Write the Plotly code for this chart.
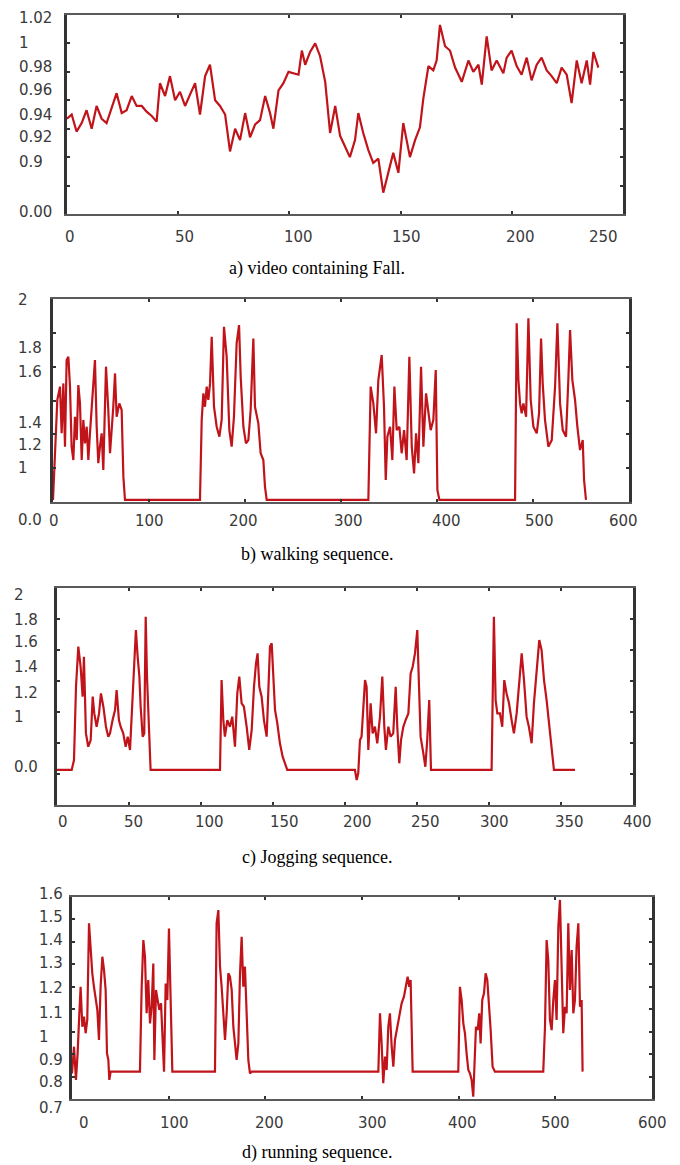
import plotly.graph_objects as go

# ---------------- data ----------------
# a) video containing Fall
fall_x = [0, 2.1, 4.3, 6.6, 8.8, 11.1, 13.3, 15.6, 17.8, 20.1, 22.3, 24.6, 26.8, 29.1, 31.3,
          33.6, 35.8, 38.1, 40.3, 41.8, 44.1, 46.3, 48.6, 50.8, 53.1, 55.3, 57.6, 59.8, 62.1, 64.3,
          66.6, 68.8, 71.1, 73.3, 75.6, 77.8, 80.1, 82.3, 84.6, 86.8, 89.1, 91.3, 92.8, 95.1, 97.3,
          99.6, 101.8, 104.1, 105.6, 107.1, 109.3, 111.6, 113.8, 116.1, 118.3, 120.6, 122.8,
          125.0, 127.2, 129.5, 131.0, 133.2, 135.5, 137.7, 140.0, 142.2, 144.5, 146.7, 149.0, 151.2,
          154.2, 156.5, 158.7, 160.2, 162.5, 164.7, 166.2, 167.7, 170.0, 172.2, 174.5, 177.5, 180.5,
          182.7, 185.0, 186.5, 188.7, 190.9, 193.2, 196.2, 197.7, 199.9, 202.2, 204.4, 206.7, 208.9,
          211.2, 213.4, 215.7, 217.9, 220.2, 222.4, 224.7, 226.9, 229.2, 231.4, 233.7, 235.2, 236.7, 238.9]
fall_y = [0.947, 0.950, 0.938, 0.944, 0.953, 0.940, 0.956, 0.947, 0.944, 0.954, 0.965, 0.951, 0.953, 0.963, 0.956,
          0.956, 0.952, 0.949, 0.945, 0.972, 0.963, 0.977, 0.960, 0.966, 0.956, 0.964, 0.972, 0.950, 0.977, 0.985,
          0.960, 0.956, 0.950, 0.924, 0.940, 0.932, 0.951, 0.934, 0.943, 0.946, 0.963, 0.951, 0.940, 0.967, 0.972,
          0.980, 0.979, 0.978, 0.995, 0.985, 0.994, 1.000, 0.991, 0.973, 0.937, 0.956, 0.935,
          0.927, 0.920, 0.932, 0.951, 0.937, 0.925, 0.916, 0.919, 0.895, 0.909, 0.923, 0.909, 0.944,
          0.920, 0.932, 0.941, 0.961, 0.984, 0.981, 0.988, 1.013, 0.998, 0.995, 0.983, 0.973, 0.988,
          0.980, 0.985, 0.971, 1.005, 0.981, 0.988, 0.979, 0.990, 0.995, 0.984, 0.978, 0.990, 0.974,
          0.985, 0.990, 0.981, 0.977, 0.972, 0.983, 0.978, 0.958, 0.988, 0.972, 0.988, 0.971, 0.994, 0.983]

# b) walking sequence
walk_x = [0, 2.1, 4.5, 7.3, 9.0, 10.8, 12.5, 14.2, 16.0, 17.7, 19.4, 21.2, 22.9, 24.7, 26.4, 28.1, 29.9,
          31.6, 33.3, 35.1, 36.8, 38.5, 41.3, 43.7, 45.5, 47.2, 48.9, 50.7, 52.4, 55.2, 57.6, 59.4, 62.8,
          64.6, 66.3, 69.1, 71.5, 73.3, 75.0,
          153.1, 154.9, 156.6, 158.3, 160.1, 161.8, 163.6, 165.3, 167.7, 170.5, 173.3, 175.7, 178.1, 180.9,
          183.7, 186.1, 188.5, 191.3, 193.8, 195.5, 198.3, 201.0, 203.5, 205.9, 208.7, 210.4, 213.9, 216.3,
          219.1, 220.8, 222.6,
          328.5, 330.9, 333.7, 336.5, 338.9, 342.4, 344.8, 346.6, 348.3, 351.1, 353.5, 355.6, 358.0, 360.8,
          363.2, 365.7, 368.4, 371.2, 373.7, 376.1, 378.2, 380.6, 383.4, 385.8, 388.6, 391.0, 393.4, 396.2,
          398.7, 400.4, 402.5,
          481.3, 483.0, 484.8, 486.5, 488.2, 490.0, 492.8, 495.2, 497.6, 500.4, 503.9, 506.3, 508.4, 510.1,
          512.5, 516.0, 519.5, 523.0, 525.4, 528.2, 531.0, 534.4, 536.8, 538.6, 541.0, 543.8, 546.2, 549.0,
          551.8, 553.2, 555.2]
walk_y = [0.812, 1.048, 1.403, 1.482, 1.206, 1.501, 1.127, 1.639, 1.659, 1.482, 1.127, 1.048, 1.304, 1.166,
          1.491, 1.383, 1.048, 1.285, 1.147, 1.245, 1.048, 1.206, 1.442, 1.639, 1.245, 1.029, 1.127, 1.206,
          0.989, 1.600, 1.344, 1.088, 1.363, 1.560, 1.304, 1.383, 1.344, 0.950, 0.812,
          0.812, 1.285, 1.442, 1.363, 1.482, 1.403, 1.501, 1.777, 1.363, 1.245, 1.186, 1.285, 1.836, 1.659,
          1.225, 1.127, 1.304, 1.738, 1.846, 1.541, 1.245, 1.147, 1.166, 1.344, 1.767, 1.363, 1.265, 1.088,
          1.048, 0.891, 0.812,
          0.812, 1.482, 1.383, 1.206, 1.521, 1.669, 1.363, 0.930, 1.186, 1.245, 1.048, 1.482, 1.225, 1.245,
          1.088, 1.225, 1.048, 1.659, 1.127, 0.969, 1.206, 1.029, 1.600, 1.127, 1.442, 1.324, 1.225, 1.285,
          1.580, 0.871, 0.812,
          0.812, 1.856, 1.521, 1.383, 1.324, 1.383, 1.304, 1.886, 1.403, 1.245, 1.206, 1.324, 1.767, 1.501,
          1.285, 1.127, 1.166, 1.482, 1.856, 1.383, 1.225, 1.186, 1.521, 1.816, 1.521, 1.403, 1.245, 1.107,
          1.166, 0.930, 0.812]

# c) Jogging sequence
jog_x = [0, 10.2, 11.8, 13.2, 14.8, 16.4, 17.8, 18.7, 20.1, 21.7, 23.4, 24.8, 25.9, 27.5, 29.2, 30.5,
         32.2, 34.0, 35.6, 36.8, 38.6, 40.3, 41.4, 43.0, 44.2, 46.0, 47.7, 49.1, 50.7, 52.3, 53.5, 54.8,
         56.0, 57.2, 58.1, 59.5, 60.6, 61.6, 62.5, 63.9, 65.0,
         113.2, 114.3, 115.5, 116.6, 118.3, 120.1, 121.7, 123.6, 125.2, 126.6, 128.2, 129.8, 131.7, 133.5,
         135.2, 136.8, 138.2, 139.3, 140.5, 142.1, 143.7, 145.6, 146.7, 147.9, 149.1, 150.2, 151.4, 153.0,
         154.8, 156.7, 158.3, 159.9,
         206.9, 208.1, 209.2, 210.4, 211.5, 212.7, 213.9, 215.0, 216.2, 217.8, 219.2, 220.8, 222.4, 224.3,
         225.9, 227.3, 228.4, 230.1, 231.7, 233.5, 235.2, 236.3, 237.7, 238.9, 240.5, 242.1, 244.0, 245.6,
         247.0, 248.6, 250.2, 251.4, 252.5, 254.4, 255.8, 257.1, 258.5, 259.7,
         301.8, 303.4, 304.6, 305.8, 307.6, 309.2, 310.6, 312.2, 313.9, 315.7, 317.3, 319.2, 320.8, 322.7,
         324.3, 326.1, 327.7, 329.6, 331.2, 333.1, 334.9, 336.5, 338.2, 340.0, 341.9, 343.7, 345.1, 359.7]
jog_y = [0.826, 0.826, 0.890, 1.363, 1.622, 1.492, 1.299, 1.557, 1.062, 0.976, 1.019, 1.299, 1.191, 1.105,
         1.191, 1.320, 1.234, 1.105, 1.041, 1.062, 1.148, 1.213, 1.342, 1.148, 1.105, 1.062, 0.976, 1.041,
         0.955, 1.234, 1.514, 1.729, 1.557, 1.428, 1.234, 1.041, 1.062, 1.815, 1.428, 1.019, 0.826,
         0.826, 1.406, 1.148, 1.041, 1.148, 1.105, 1.170, 0.976, 1.320, 1.428, 1.256, 1.234, 1.105, 0.955,
         1.084, 1.363, 1.514, 1.578, 1.363, 1.299, 1.148, 1.041, 1.320, 1.622, 1.643, 1.406, 1.213, 1.127,
         0.998, 0.912, 0.869, 0.826,
         0.826, 0.761, 0.804, 1.019, 1.041, 1.191, 1.406, 1.363, 0.955, 1.256, 1.062, 1.105, 0.998, 1.170,
         1.428, 1.105, 0.955, 1.105, 1.041, 1.062, 1.363, 1.105, 0.869, 1.019, 1.105, 1.148, 1.191, 1.449,
         1.492, 1.578, 1.729, 1.363, 1.041, 0.933, 0.847, 1.019, 1.277, 0.826,
         0.826, 1.815, 1.277, 1.191, 1.191, 1.105, 1.406, 1.320, 1.256, 1.148, 1.062, 1.191, 1.363, 1.578,
         1.406, 1.170, 1.105, 0.998, 1.256, 1.492, 1.664, 1.600, 1.406, 1.277, 1.105, 0.933, 0.826, 0.826]

# d) running sequence
run_x = [0, 2.1, 4.1, 5.8, 7.6, 8.9, 10.7, 12.4, 14.1, 15.8, 17.6, 19.3, 21.0, 22.7, 24.5, 26.2, 27.9,
         29.6, 31.4, 33.1, 34.8, 36.2, 37.6, 38.6, 40.0,
         70.3, 72.0, 73.8, 75.5, 77.2, 78.9, 80.7, 82.4, 84.1, 85.2, 86.9, 88.6, 90.3, 92.1, 93.8, 95.2,
         96.9, 98.6, 100.3, 102.1, 103.8,
         147.9, 149.6, 151.4, 153.1, 154.8, 156.5, 158.3, 160.0, 161.7, 163.4, 165.2, 166.9, 168.6, 170.3,
         172.1, 173.8, 175.5, 177.2, 178.9, 180.7, 182.4, 184.1, 185.9,
         316.9, 318.6, 320.3, 322.0, 323.8, 325.5, 327.2, 328.9, 330.7, 332.4, 334.1, 336.5, 338.6, 341.0,
         343.4, 345.5, 347.2, 348.9, 350.3, 352.4,
         399.6, 401.3, 403.1, 404.8, 406.5, 408.2, 410.0, 411.7, 413.4, 415.1, 416.2, 417.9, 419.6, 421.3,
         422.7, 424.4, 426.2, 427.9, 429.6, 431.3, 433.1, 435.1, 437.5,
         487.5, 489.3, 491.0, 492.7, 494.4, 496.2, 497.9, 499.6, 501.3, 503.1, 504.8, 506.5, 508.2, 510.0,
         511.7, 513.4, 515.1, 516.9, 518.6, 520.3, 522.0, 523.8, 525.5, 527.2, 528.2]
run_y = [0.814, 0.933, 0.785, 0.903, 1.082, 1.200, 1.022, 1.067, 0.993, 1.052, 1.483, 1.364, 1.260, 1.200,
         1.156, 1.097, 0.963, 1.200, 1.334, 1.275, 1.186, 0.903, 0.874, 0.785, 0.822,
         0.822, 1.186, 1.408, 1.334, 1.082, 1.230, 1.037, 1.111, 1.304, 0.874, 1.186, 1.141, 1.097, 1.126,
         0.993, 0.822, 1.215, 1.141, 1.460, 1.141, 0.822,
         0.822, 1.483, 1.542, 1.290, 1.200, 1.082, 0.963, 1.082, 1.260, 1.245, 1.186, 1.022, 0.948, 0.874,
         0.948, 1.260, 1.423, 1.200, 1.290, 1.067, 0.874, 0.814, 0.822,
         0.822, 1.082, 0.948, 0.770, 0.889, 0.829, 1.022, 1.082, 0.933, 0.844, 0.963, 1.022, 1.082, 1.126,
         1.156, 1.215, 1.245, 1.200, 1.230, 0.822,
         0.822, 1.200, 1.141, 1.037, 0.993, 0.903, 0.829, 0.814, 0.785, 0.710, 0.814, 1.022, 1.007, 1.082,
         0.948, 1.141, 1.171, 1.260, 1.230, 1.141, 1.007, 0.844, 0.822,
         0.822, 1.022, 1.408, 1.319, 1.052, 1.007, 1.141, 1.230, 1.052, 1.468, 1.587, 1.290, 0.993, 1.111,
         1.082, 1.483, 1.186, 1.364, 1.082, 1.141, 1.379, 1.483, 1.111, 1.141, 0.822]

# tick label texts
fall_ylabels = ["1.02", "1", "0.98", "0.96", "0.94", "0.92", "0.9", "0.00"]
fall_xlabels = ["0", "50", "100", "150", "200", "250"]
walk_ylabels = ["2", "1.8", "1.6", "1.4", "1.2", "1", "0.0"]
walk_xlabels = ["0", "100", "200", "300", "400", "500", "600"]
jog_ylabels = ["2", "1.8", "1.6", "1.4", "1.2", "1", "0.0"]
jog_xlabels = ["0", "50", "100", "150", "200", "250", "300", "350", "400"]
run_ylabels = ["1.6", "1.5", "1.4", "1.3", "1.2", "1.1", "1", "0.9", "0.8", "0.7"]
run_xlabels = ["0", "100", "200", "300", "400", "500", "600"]

captions = ["a) video containing Fall.", "b) walking sequence.",
            "c) Jogging sequence.", "d) running sequence."]

# ---------------- layout ----------------
W, H = 680, 1165
RED = "#c0141a"
LABEL_FONT = dict(family="DejaVu Sans", size=15, color="#3a3a3a")
CAP_FONT = dict(family="Liberation Serif", size=18, color="#000000")

panels = [
    dict(x=fall_x, y=fall_y, frame=(67, 623, 15, 214), xr=[0, 250], yr=[0.88, 1.02],
         xt=[50, 100, 150, 200], yt=[0.90, 0.92, 0.94, 0.96, 0.98, 1.00],
         ylab=fall_ylabels, ylab_py=[18, 43, 67, 90, 115, 137, 162, 212], ylab_px=17,
         xlab=fall_xlabels, xlab_px=[70, 184, 298, 406, 520, 603], xlab_py=237, cap_py=268),
    dict(x=walk_x, y=walk_y, frame=(53, 629, 299, 502), xr=[0, 600], yr=[0.8, 2.0],
         xt=[100, 200, 300, 400, 500], yt=[1.0, 1.2, 1.4, 1.6, 1.8],
         ylab=walk_ylabels, ylab_py=[300, 348, 372, 423, 445, 468, 520], ylab_px=16,
         xlab=walk_xlabels, xlab_px=[54, 149, 243, 348, 446, 539, 623], xlab_py=521, cap_py=554),
    dict(x=jog_x, y=jog_y, frame=(57, 633, 588, 805), xr=[0, 400], yr=[0.6, 2.0],
         xt=[50, 100, 150, 200, 250, 300, 350], yt=[0.8, 1.0, 1.2, 1.4, 1.6, 1.8],
         ylab=jog_ylabels, ylab_py=[595, 620, 642, 667, 693, 717, 767], ylab_px=12,
         xlab=jog_xlabels, xlab_px=[63, 133, 209, 284, 357, 425, 494, 569, 637], xlab_py=822, cap_py=857),
    dict(x=run_x, y=run_y, frame=(72, 652, 897, 1099), xr=[0, 600], yr=[0.7, 1.6],
         xt=[100, 200, 300, 400, 500], yt=[0.8, 0.9, 1.0, 1.1, 1.2, 1.3, 1.4, 1.5],
         ylab=run_ylabels, ylab_py=[894, 917, 940, 963, 988, 1013, 1037, 1060, 1082, 1108], ylab_px=37,
         xlab=run_xlabels, xlab_px=[84, 175, 269, 372, 462, 555, 652], xlab_py=1123, cap_py=1152),
]

fig = go.Figure()
annotations = []
layout_axes = {}
for i, p in enumerate(panels, start=1):
    sfx = "" if i == 1 else str(i)
    fig.add_trace(go.Scatter(x=p["x"], y=p["y"], mode="lines",
                             line=dict(color=RED, width=2.2),
                             xaxis="x" + sfx, yaxis="y" + sfx,
                             showlegend=False, hoverinfo="skip"))
    l, r, t, b = p["frame"]
    layout_axes["xaxis" + sfx] = dict(
        domain=[l / W, r / W], range=p["xr"], anchor="y" + sfx,
        showline=True, linecolor="#5a5a5a", linewidth=2, mirror="ticks",
        ticks="inside", tickmode="array", tickvals=p["xt"], ticklen=3, tickwidth=2,
        tickcolor="#333333", showticklabels=False, showgrid=False, zeroline=False, fixedrange=True)
    layout_axes["yaxis" + sfx] = dict(
        domain=[1 - b / H, 1 - t / H], range=p["yr"], anchor="x" + sfx,
        showline=True, linecolor="#333333", linewidth=3, mirror="ticks",
        ticks="inside", tickmode="array", tickvals=p["yt"], ticklen=3, tickwidth=2,
        tickcolor="#333333", showticklabels=False, showgrid=False, zeroline=False, fixedrange=True)
    for txt, py in zip(p["ylab"], p["ylab_py"]):
        annotations.append(dict(text=txt, x=p["ylab_px"] / W, y=1 - py / H, xref="paper", yref="paper",
                                xanchor="left", yanchor="middle", showarrow=False, font=LABEL_FONT))
    for txt, px in zip(p["xlab"], p["xlab_px"]):
        annotations.append(dict(text=txt, x=px / W, y=1 - p["xlab_py"] / H, xref="paper", yref="paper",
                                xanchor="center", yanchor="middle", showarrow=False, font=LABEL_FONT))
    annotations.append(dict(text=captions[i - 1], x=317 / W, y=1 - p["cap_py"] / H, xref="paper",
                            yref="paper", xanchor="center", yanchor="middle", showarrow=False,
                            font=CAP_FONT))

fig.update_layout(width=W, height=H, margin=dict(l=0, r=0, t=0, b=0),
                  paper_bgcolor="white", plot_bgcolor="white",
                  annotations=annotations, hovermode=False, **layout_axes)

fig.write_html("out.html", config={"displayModeBar": False},
               post_script="document.body.style.margin='0';")
